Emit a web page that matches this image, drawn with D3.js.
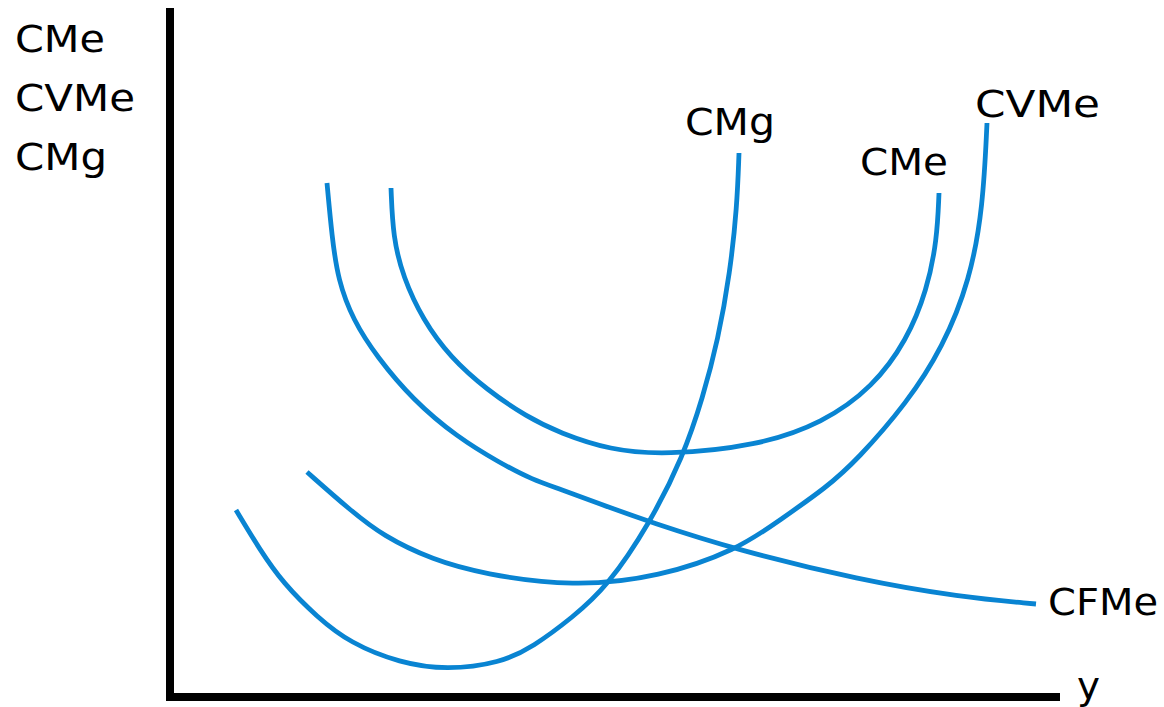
<!DOCTYPE html>
<html>
<head>
<meta charset="utf-8">
<script src="https://cdn.jsdelivr.net/npm/d3@7"></script>
<style>
  html, body { margin: 0; padding: 0; background: #ffffff; }
  svg { display: block; }
  text { font-family: "DejaVu Sans", sans-serif; fill: #000; }
</style>
</head>
<body>
<script>
// Quantity (x) and cost (y) in arbitrary units
const cmgX  = [66, 90, 113, 147, 180, 230, 277, 330, 363, 403, 437, 480, 513, 533, 548, 560, 567, 569];
const cmgY  = [187, 147, 114, 80, 54, 34, 27, 34, 50, 80, 110, 174, 240, 300, 357, 424, 490, 544];
const cvmeX = [137, 180, 213, 263, 313, 403, 490, 567, 610, 657, 687, 737, 773, 800, 813, 817];
const cvmeY = [225, 187, 161, 137, 123, 110, 120, 147, 177, 210, 237, 294, 350, 417, 490, 574];
const cmeX  = [221, 223, 233, 253, 280, 317, 357, 390, 440, 495, 587, 653, 703, 737, 757, 767, 769];
const cmeY  = [509, 460, 420, 377, 340, 307, 280, 264, 247, 242, 251, 274, 310, 357, 407, 457, 504];
const cfmeX = [157, 162, 168, 183, 207, 243, 287, 330, 363, 390, 430, 480, 567, 690, 790, 866];
const cfmeY = [514, 460, 417, 377, 340, 297, 260, 234, 217, 208, 193, 175, 147, 117, 100, 93];

const yAxisLabels = ["CMe", "CVMe", "CMg"];
const xAxisLabel = "y";
const curveNames = ["CMg", "CMe", "CVMe", "CFMe"];

const W = 1164, H = 707;
const svg = d3.select("body").append("svg").attr("width", W).attr("height", H);

const x = d3.scaleLinear().domain([0, 890]).range([170, 1060]);
const y = d3.scaleLinear().domain([0, 689]).range([697, 8]);

const blue = "#0984d2";
const line = d3.line().x(d => x(d[0])).y(d => y(d[1])).curve(d3.curveBasis);
const zip = (a, b) => a.map((v, i) => [v, b[i]]);

const series = [
  {name: "CMg", data: zip(cmgX, cmgY)},
  {name: "CVMe", data: zip(cvmeX, cvmeY)},
  {name: "CMe", data: zip(cmeX, cmeY)},
  {name: "CFMe", data: zip(cfmeX, cfmeY)}
];

svg.append("g").selectAll("path").data(series).join("path")
  .attr("d", d => line(d.data))
  .attr("fill", "none")
  .attr("stroke", blue)
  .attr("stroke-width", 4.8);

// axes
const axes = svg.append("g").attr("stroke", "#000").attr("stroke-width", 8);
axes.append("line").attr("x1", x(0)).attr("x2", x(0)).attr("y1", y(689)).attr("y2", y(0) + 4);
axes.append("line").attr("x1", x(0) - 4).attr("x2", x(890)).attr("y1", y(0)).attr("y2", y(0));

// y axis title
const yLab = [
  {t: "CMe", y: 52, w: 90},
  {t: "CVMe", y: 111, w: 120},
  {t: "CMg", y: 170, w: 92}
];
svg.append("g").selectAll("text").data(yLab).join("text")
  .attr("x", 15)
  .attr("y", d => d.y)
  .attr("font-size", 38)
  .attr("textLength", d => d.w)
  .attr("lengthAdjust", "spacingAndGlyphs")
  .text((d, i) => yAxisLabels[i]);

// x axis label
svg.append("text").attr("x", 1077).attr("y", 699).attr("font-size", 38)
  .attr("textLength", 23).attr("lengthAdjust", "spacingAndGlyphs").text(xAxisLabel);

// curve labels
const labelPos = {
  "CMg":  {x: 685, y: 135, w: 90},
  "CMe":  {x: 860, y: 175, w: 88},
  "CVMe": {x: 975, y: 117, w: 125},
  "CFMe": {x: 1048, y: 615, w: 110}
};
svg.append("g").selectAll("text").data(curveNames).join("text")
  .attr("x", d => labelPos[d].x)
  .attr("y", d => labelPos[d].y)
  .attr("font-size", 38)
  .attr("textLength", d => labelPos[d].w)
  .attr("lengthAdjust", "spacingAndGlyphs")
  .text(d => d);
</script>
</body>
</html>
